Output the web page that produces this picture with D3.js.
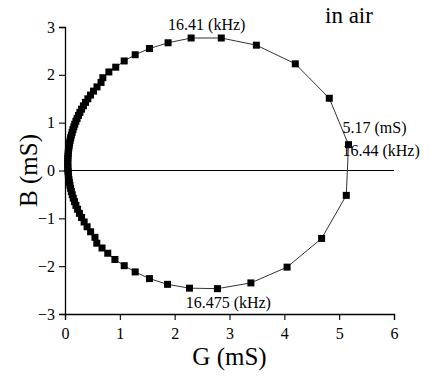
<!DOCTYPE html>
<html>
<head>
<meta charset="utf-8">
<script src="https://cdn.jsdelivr.net/npm/d3@7"></script>
<style>
  body { margin: 0; background: #fff; }
  svg text { font-family: "Liberation Serif", "Times New Roman", serif !important; fill: #000; }
</style>
</head>
<body>
<svg id="chart" width="431" height="377"></svg>
<script>
// conductance G (mS) and susceptance B (mS), in sweep order
const G = [
  0.050, 0.050, 0.052, 0.055, 0.058, 0.063, 0.069, 0.076, 0.084, 0.094,
  0.104, 0.116, 0.130, 0.145, 0.161, 0.178, 0.199, 0.221, 0.246, 0.272,
  0.302, 0.336, 0.374, 0.417, 0.465, 0.520, 0.584, 0.657,
  0.69, 0.80, 0.925, 1.08, 1.28, 1.54, 1.88, 2.30, 2.85, 3.49, 4.20, 4.82, 5.17,
  5.13, 4.68, 4.05, 3.39, 2.78, 2.27, 1.87, 1.54, 1.28, 1.08, 0.91, 0.78, 0.675, 0.58,
  0.546, 0.467, 0.403, 0.349, 0.302, 0.263, 0.229, 0.199, 0.173, 0.151,
  0.132, 0.116, 0.102, 0.090, 0.080, 0.072, 0.065, 0.060, 0.056, 0.053, 0.051
];
const B = [
  0.141, 0.196, 0.251, 0.305, 0.360, 0.415, 0.469, 0.524, 0.578, 0.632,
  0.686, 0.739, 0.797, 0.855, 0.912, 0.968, 1.029, 1.089, 1.153, 1.216,
  1.282, 1.352, 1.424, 1.499, 1.577, 1.660, 1.748, 1.841,
  1.94, 2.06, 2.16, 2.29, 2.42, 2.55, 2.67, 2.77, 2.77, 2.62, 2.23, 1.51, 0.54,
  -0.52, -1.42, -2.02, -2.35, -2.47, -2.46, -2.38, -2.26, -2.12, -1.99, -1.86, -1.73, -1.62, -1.52,
  -1.397, -1.281, -1.176, -1.076, -0.982, -0.895, -0.810, -0.729, -0.651, -0.577,
  -0.506, -0.440, -0.372, -0.310, -0.251, -0.192, -0.133, -0.078, -0.024, 0.031, 0.086
];
const xTicks = [0, 1, 2, 3, 4, 5, 6];
const yTicks = [-3, -2, -1, 0, 1, 2, 3];

const labels = [
  { text: "16.41 (kHz)", g: 1.88, b: 3.0, dx: 0, dy: 3 },
  { text: "5.17 (mS)", g: 5.17, b: 0.54, dx: -6, dy: -12 },
  { text: "16.44 (kHz)", g: 5.17, b: 0.54, dx: -6, dy: 11 },
  { text: "16.475 (kHz)", g: 2.2, b: -2.47, dx: 0, dy: 19 }
];

const data = G.map((g, i) => ({ g, b: B[i] }));

const svg = d3.select("#chart");
const x = d3.scaleLinear().domain([0, 6]).range([65, 394]);
const y = d3.scaleLinear().domain([-3, 3]).range([314, 27]);

// zero line
svg.append("line")
  .attr("x1", x(0)).attr("x2", x(6))
  .attr("y1", y(0)).attr("y2", y(0))
  .attr("stroke", "#000").attr("stroke-width", 1.2);

// axes with minor ticks
function minor(domain) {
  const out = [];
  for (let v = domain[0]; v <= domain[1] + 1e-9; v += 0.2) out.push(+v.toFixed(1));
  return out;
}

const gx = svg.append("g").attr("transform", `translate(0,${y(-3)})`);
gx.call(d3.axisBottom(x).tickValues(minor([0, 6])).tickSize(3).tickFormat(""));
gx.call(d3.axisBottom(x).tickValues(xTicks).tickSize(6).tickPadding(4).tickFormat(d3.format("d")));

const gy = svg.append("g").attr("transform", `translate(${x(0)},0)`);
gy.call(d3.axisLeft(y).tickValues(minor([-3, 3])).tickSize(3).tickFormat(""));
gy.call(d3.axisLeft(y).tickValues(yTicks).tickSize(6).tickPadding(4).tickFormat(d3.format("d")));

gx.attr("font-family", "Liberation Serif").attr("font-size", 16);
gy.attr("font-family", "Liberation Serif").attr("font-size", 16);
svg.selectAll(".domain").attr("stroke", "#000").attr("stroke-width", 1.3);
svg.selectAll(".tick line").attr("stroke", "#000").attr("stroke-width", 1.1);
svg.selectAll(".tick text").attr("fill", "#000");
gx.selectAll(".tick text").attr("dy", "0.95em");

// curve
svg.append("path")
  .datum(data)
  .attr("fill", "none")
  .attr("stroke", "#333")
  .attr("stroke-width", 1)
  .attr("d", d3.line().x(d => x(d.g)).y(d => y(d.b)));

svg.selectAll("rect.pt")
  .data(data)
  .join("rect")
  .attr("class", "pt")
  .attr("x", d => x(d.g) - 3.5)
  .attr("y", d => y(d.b) - 3.5)
  .attr("width", 7)
  .attr("height", 7)
  .attr("fill", "#000");

// annotations
svg.selectAll("text.ann")
  .data(labels)
  .join("text")
  .attr("class", "ann")
  .attr("x", d => x(d.g) + d.dx)
  .attr("y", d => y(d.b) + d.dy)
  .style("font-size", "16px")
  .text(d => d.text);

svg.append("text")
  .attr("x", 325).attr("y", 23)
  .style("font-size", "23px")
  .text("in air");

// axis titles
svg.append("text")
  .attr("x", x(3)).attr("y", 365)
  .attr("text-anchor", "middle")
  .style("font-size", "25px")
  .text("G (mS)");

svg.append("text")
  .attr("transform", `translate(37,${y(0)}) rotate(-90)`)
  .attr("text-anchor", "middle")
  .style("font-size", "25px")
  .text("B (mS)");
</script>
</body>
</html>
